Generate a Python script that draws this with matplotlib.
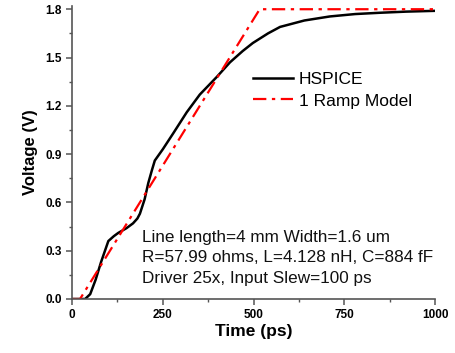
import numpy as np
import matplotlib.pyplot as plt
from matplotlib.ticker import MultipleLocator

plt.rcParams['font.family'] = ['Liberation Sans', 'DejaVu Sans']

# HSPICE waveform
t_hspice = [0, 30, 36, 50, 65, 80, 100, 115, 127, 150, 168, 180, 187, 200, 210, 220, 228,
            250, 279, 316, 352, 399, 435, 470, 498, 540, 573, 640, 710, 780, 848, 920, 1000]
v_hspice = [0.0, 0.0, 0.0, 0.03, 0.12, 0.23, 0.36, 0.39, 0.41, 0.44, 0.47, 0.50, 0.53, 0.62,
            0.72, 0.80, 0.86, 0.93, 1.03, 1.16, 1.27, 1.38, 1.47, 1.54, 1.59, 1.65, 1.69,
            1.73, 1.755, 1.77, 1.778, 1.785, 1.79]

# 1 ramp model
t_ramp = [0, 22, 517, 1000]
v_ramp = [0.0, 0.0, 1.8, 1.8]

info_lines = ["Line length=4 mm Width=1.6 um",
              "R=57.99 ohms, L=4.128 nH, C=884 fF",
              "Driver 25x, Input Slew=100 ps"]

fig = plt.figure(figsize=(4.56, 3.53), dpi=100)
ax = fig.add_axes([0.158, 0.153, 0.796, 0.83])

ax.plot(t_hspice, v_hspice, color="black", lw=1.8, label="HSPICE")
ax.plot(t_ramp, v_ramp, color="red", lw=1.6, dashes=(6, 2.5, 1.5, 2.5), label="1 Ramp Model")

ax.set_xlim(0, 1000)
ax.set_ylim(0, 1.82)
ax.xaxis.set_major_locator(MultipleLocator(250))
ax.xaxis.set_minor_locator(MultipleLocator(125))
ax.yaxis.set_major_locator(MultipleLocator(0.3))
ax.yaxis.set_minor_locator(MultipleLocator(0.15))
ax.yaxis.set_major_formatter(plt.FormatStrFormatter("%.1f"))

for s in ["top", "right"]:
    ax.spines[s].set_visible(False)
for s in ["left", "bottom"]:
    ax.spines[s].set_color("#555555")
    ax.spines[s].set_linewidth(1.2)

ax.tick_params(which="major", direction="out", length=4, width=1.1, color="#555555", labelsize=8.5)
ax.tick_params(which="minor", direction="out", length=2.5, width=1.0, color="#555555")
for lab in ax.get_xticklabels() + ax.get_yticklabels():
    lab.set_fontweight("bold")

ax.set_xlabel("Time (ps)", fontsize=12.5, fontweight="bold", labelpad=2)
ax.set_ylabel("Voltage (V)", fontsize=12, fontweight="bold", labelpad=5)

ax.legend(loc="upper left", bbox_to_anchor=(0.455, 0.828), frameon=False, fontsize=12.5,
          handlelength=2.3, handletextpad=0.35, labelspacing=0.36)

ax.text(0.192, 0.14, "\n".join(info_lines), transform=ax.transAxes, fontsize=12.3,
        linespacing=1.45, va="center", ha="left", color="#111111")

fig.savefig("out.png", dpi=100)
plt.close(fig)
